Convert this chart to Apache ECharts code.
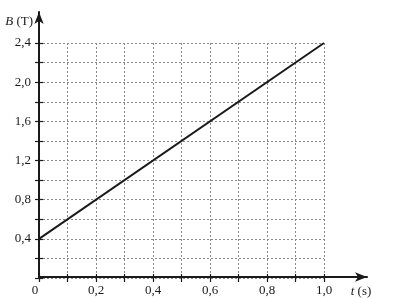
<!DOCTYPE html>
<html><head><meta charset="utf-8">
<script src="https://cdn.jsdelivr.net/npm/echarts@6/dist/echarts.min.js"></script>
<style>html,body{margin:0;padding:0;background:#fff}#c{width:408px;height:298px}</style>
</head><body><div id="c"></div>
<script>
const tValues = [0, 1.0];
const bValues = [0.4, 2.4];
const xTickLabels = ['0', '0,2', '0,4', '0,6', '0,8', '1,0'];
const yTickLabels = ['0,4', '0,8', '1,2', '1,6', '2,0', '2,4'];

const font = 'Liberation Serif';
const ink = '#1a1a1a';
const fmtX = v => {
  const k = Math.round(v * 10);
  if (k % 2 !== 0) return '';
  return k === 0 ? '{z|' + xTickLabels[0] + '}' : xTickLabels[k / 2];
};
const fmtY = v => { const k = Math.round(v * 10); return (k > 0 && k % 4 === 0) ? yTickLabels[k / 4 - 1] : ''; };

const chart = echarts.init(document.getElementById('c'), null, {renderer: 'canvas'});
chart.setOption({
  animation: false,
  grid: [
    {left: 39, right: 84, top: 43, bottom: 20},
    {left: 39, right: 41, top: 12, bottom: 20}
  ],
  xAxis: [
    {type: 'value', gridIndex: 0, min: 0, max: 1.0, interval: 0.1,
     axisLine: {show: false},
     axisTick: {show: true, length: 4, lineStyle: {color: ink, width: 1.2}},
     splitLine: {show: true, lineStyle: {type: [2, 2], color: '#8a8a8a', width: 1}},
     axisLabel: {formatter: fmtX, margin: 6, color: ink, fontFamily: font, fontSize: 13, showMinLabel: true, showMaxLabel: true,
       rich: {z: {padding: [0, 8, 0, 0], fontFamily: font, fontSize: 13, color: ink}}}},
    {type: 'value', gridIndex: 0, min: 0, max: 1.0, interval: 0.1, position: 'bottom',
     axisLine: {show: false},
     axisTick: {show: true, inside: true, length: 4, lineStyle: {color: ink, width: 1.2}},
     splitLine: {show: false}, axisLabel: {show: false}},
    {type: 'value', gridIndex: 1, min: 0, max: 1, position: 'bottom',
     axisLine: {show: true, symbol: ['none', 'arrow'], symbolSize: [7, 12], lineStyle: {color: ink, width: 2}},
     axisTick: {show: false}, splitLine: {show: false}, axisLabel: {show: false},
     name: '{i|t} (s)', nameLocation: 'end', nameGap: -6,
     nameTextStyle: {color: ink, fontFamily: font, fontSize: 13, align: 'center', verticalAlign: 'top', padding: [8, 0, 0, 0],
       rich: {i: {fontStyle: 'italic', fontFamily: font, fontSize: 13, color: ink}}}}
  ],
  yAxis: [
    {type: 'value', gridIndex: 0, min: 0, max: 2.4, interval: 0.2,
     axisLine: {show: false},
     axisTick: {show: true, length: 4, lineStyle: {color: ink, width: 1.2}},
     splitLine: {show: true, lineStyle: {type: [2, 2], color: '#8a8a8a', width: 1}},
     axisLabel: {formatter: fmtY, margin: 8, color: ink, fontFamily: font, fontSize: 13, showMinLabel: true, showMaxLabel: true}},
    {type: 'value', gridIndex: 0, min: 0, max: 2.4, interval: 0.2, position: 'left',
     axisLine: {show: false},
     axisTick: {show: true, inside: true, length: 4, lineStyle: {color: ink, width: 1.2}},
     splitLine: {show: false}, axisLabel: {show: false}},
    {type: 'value', gridIndex: 1, min: 0, max: 1, position: 'left',
     axisLine: {show: true, symbol: ['none', 'arrow'], symbolSize: [7, 12], lineStyle: {color: ink, width: 2}},
     axisTick: {show: false}, splitLine: {show: false}, axisLabel: {show: false},
     name: '{i|B} (T)', nameLocation: 'end', nameGap: -10,
     nameTextStyle: {color: ink, fontFamily: font, fontSize: 13, align: 'right', verticalAlign: 'middle', padding: [0, 6, 0, 0],
       rich: {i: {fontStyle: 'italic', fontFamily: font, fontSize: 13, color: ink}}}}
  ],
  series: [{
    type: 'line', xAxisIndex: 0, yAxisIndex: 0,
    data: tValues.map((t, i) => [t, bValues[i]]),
    showSymbol: false, symbol: 'none',
    lineStyle: {color: ink, width: 2}
  }]
});
</script></body></html>
